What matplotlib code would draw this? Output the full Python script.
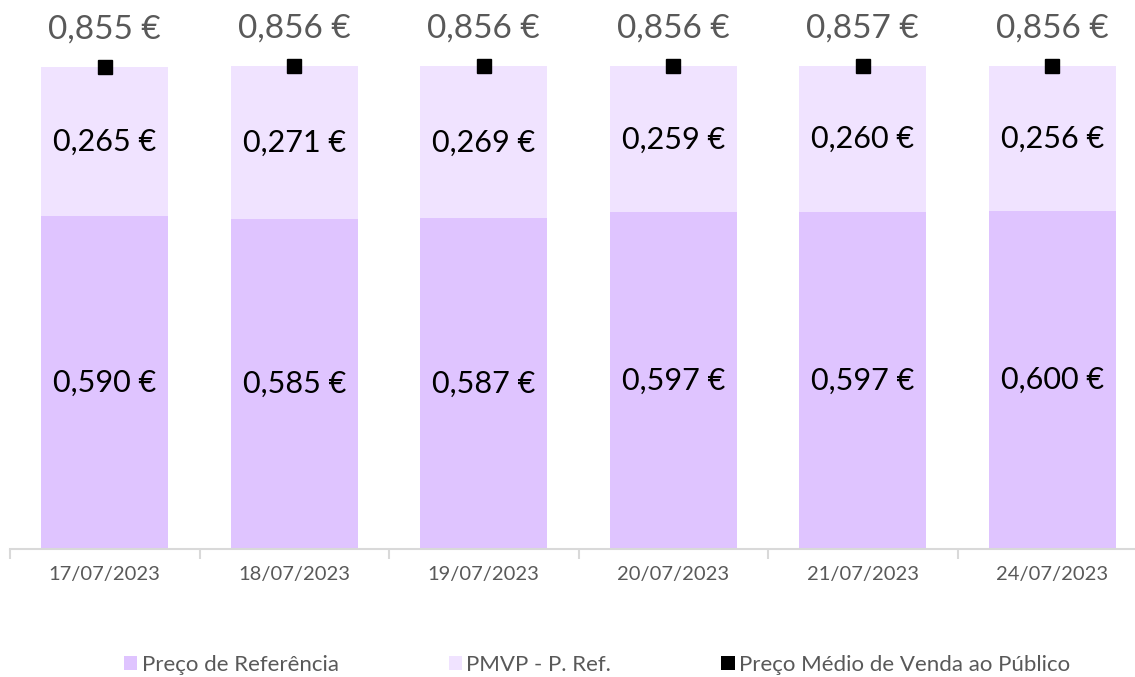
import matplotlib
matplotlib.use("Agg")
import matplotlib.pyplot as plt
import numpy as np
from matplotlib.patches import Patch

dates = ["17/07/2023", "18/07/2023", "19/07/2023", "20/07/2023", "21/07/2023", "24/07/2023"]
preco_ref = [0.590, 0.585, 0.587, 0.597, 0.597, 0.600]
pmvp_minus_ref = [0.265, 0.271, 0.269, 0.259, 0.260, 0.256]
pmvp = [0.855, 0.856, 0.856, 0.856, 0.857, 0.856]

c_ref = "#DFC4FF"
c_diff = "#F0E3FF"
grey = "#595959"

plt.rcParams['font.family'] = ['Lato', 'DejaVu Sans']

W, H = 1135, 677
fig = plt.figure(figsize=(W / 100, H / 100), dpi=100)
ax = fig.add_axes([10 / W, (H - 549) / H, 1125 / W, 549 / H])

x = np.arange(len(dates))
bw = 0.67
ax.bar(x, preco_ref, bw, color=c_ref, label="Preço de Referência", zorder=2)
ax.bar(x, pmvp_minus_ref, bw, bottom=preco_ref, color=c_diff, label="PMVP - P. Ref.", zorder=2)
ax.plot(x, pmvp, linestyle="none", marker="s", markersize=10, color="black", zorder=3,
        label="Preço Médio de Venda ao Público")

def fmt(v):
    return f"{v:.3f}".replace(".", ",") + " €"

for i in range(len(dates)):
    ax.text(x[i], preco_ref[i] / 2, fmt(preco_ref[i]), ha="center", va="center",
            fontsize=22, color="black")
    ax.text(x[i], preco_ref[i] + pmvp_minus_ref[i] / 2, fmt(pmvp_minus_ref[i]),
            ha="center", va="center", fontsize=22, color="black")
    ax.text(x[i], pmvp[i] + 0.04, fmt(pmvp[i]), ha="center", va="bottom",
            fontsize=24, color=grey)

ax.set_yticks([])
ax.set_xticks(x)
ax.set_xticklabels(dates, fontsize=14.5, color=grey)
ax.tick_params(axis="x", which="major", length=0, pad=12)
ax.set_xticks(np.arange(-0.5, len(dates) + 0.5, 1), minor=True)
ax.tick_params(axis="x", which="minor", length=7, width=1.5, color="#D9D9D9")

cat_w = 189.5
ax.set_xlim(-0.5, -0.5 + 1125 / cat_w)
ax.set_ylim(0, 549 / 563.7)

for s in ["top", "right", "left"]:
    ax.spines[s].set_visible(False)
ax.spines["bottom"].set_color("#D9D9D9")
ax.spines["bottom"].set_linewidth(1.5)

handles = [
    Patch(facecolor=c_ref, edgecolor="none", label="Preço de Referência"),
    Patch(facecolor=c_diff, edgecolor="none", label="PMVP - P. Ref."),
    Patch(facecolor="black", edgecolor="none", label="Preço Médio de Venda ao Público"),
]
leg = fig.legend(handles=handles, loc="center", bbox_to_anchor=(0.526, (H - 665) / H),
                 ncol=3, frameon=False, fontsize=16, handlelength=0.6, handleheight=0.6,
                 handletextpad=0.2, columnspacing=4.95)
for t in leg.get_texts():
    t.set_color(grey)

fig.savefig("out.png", dpi=100)
